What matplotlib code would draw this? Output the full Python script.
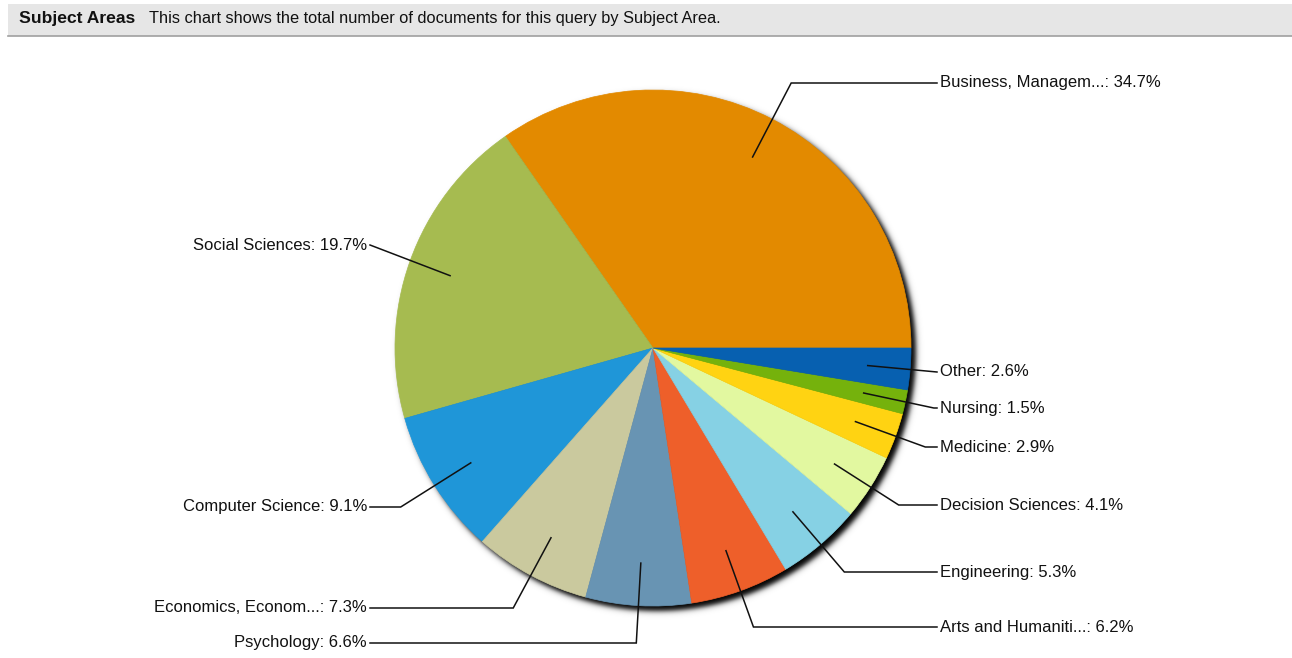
import numpy as np
import matplotlib
matplotlib.use("Agg")
import matplotlib.pyplot as plt
from matplotlib.patches import Rectangle

# ---- data ----
categories = ["Business, Managem...", "Social Sciences", "Computer Science",
              "Economics, Econom...", "Psychology", "Arts and Humaniti...",
              "Engineering", "Decision Sciences", "Medicine", "Nursing", "Other"]
percents = [34.7, 19.7, 9.1, 7.3, 6.6, 6.2, 5.3, 4.1, 2.9, 1.5, 2.6]
colors = ["#E38A00", "#A6BB50", "#1F96D8", "#CAC99E", "#6894B3", "#EE5F2A",
          "#86D1E4", "#E2F8A0", "#FFD312", "#75B20C", "#0760B0"]

# ---- layout (screen pixels) ----
W, H = 1292, 658
cx, cy, R = 653, 348, 258
label_y = [83, 245, 507, 608, 643, 627, 572, 505, 447, 408, 372]
right_x, left_x = 937, 370

fig = plt.figure(figsize=(W / 100, H / 100), dpi=100)
ax = fig.add_axes([0, 0, 1, 1])
ax.set_xlim(0, W)
ax.set_ylim(H, 0)
ax.set_aspect("equal")
ax.axis("off")

# header bar
ax.add_patch(Rectangle((8, 4), W - 8, 32, facecolor="#E6E6E6", edgecolor="none", zorder=1))
ax.plot([8, W], [36, 36], color="#A0A0A0", lw=1.2, zorder=2)
ax.text(19, 19, "Subject Areas", fontsize=12.6, fontweight="bold", va="center",
        ha="left", family="Liberation Sans", color="#111111", zorder=3)
ax.text(149, 18, "This chart shows the total number of documents for this query by Subject Area.",
        fontsize=11.8, va="center", ha="left", family="Liberation Sans", color="#111111", zorder=3)

# shadow
ox, oy = 4, 5
xs = np.arange(cx - R - 20, cx + R + 30)
ys = np.arange(cy - R - 20, cy + R + 30)
XX, YY = np.meshgrid(xs, ys)
d = np.sqrt((XX - cx - ox) ** 2 + (YY - cy - oy) ** 2) - R
alpha = 1.0 / (1 + np.exp((d - 0.5) / 1.6))
img = np.zeros((len(ys), len(xs), 4))
img[..., 3] = alpha
ax.imshow(img, extent=(xs[0] - 0.5, xs[-1] + 0.5, ys[-1] + 0.5, ys[0] - 0.5),
          zorder=3, interpolation="bilinear")
ax.set_xlim(0, W)
ax.set_ylim(H, 0)

wedges, _ = ax.pie(percents, colors=colors, startangle=0, counterclock=False,
                   center=(cx, cy), radius=R, frame=True)
for w in wedges:
    w.set_zorder(4)
    w.set_edgecolor(w.get_facecolor())
    w.set_linewidth(0.5)
ax.set_xlim(0, W)
ax.set_ylim(H, 0)
ax.axis("off")

# leader lines and labels
cum = np.cumsum([0] + percents)
total = sum(percents)
for i, (name, p) in enumerate(zip(categories, percents)):
    mid = np.deg2rad(360 * (cum[i] + p / 2) / total)
    c, s = np.cos(mid), np.sin(mid)
    x0, y0 = cx + 0.835 * R * c, cy - 0.835 * R * s
    ly = label_y[i]
    right = c > 0
    if abs(s) > 1e-6:
        t = (cy - ly) / s
        ex, ey = cx + t * c, ly
    else:
        ex, ey = right_x, ly
    if right:
        ex = min(ex, right_x)
        lx = right_x
    else:
        ex = max(ex, left_x)
        lx = left_x
    ax.plot([x0, ex, lx], [y0, ey, ly], color="#111111", lw=1.1, zorder=5,
            solid_joinstyle="miter")
    txt = f"{name}: {p:.1f}%"
    ax.text(lx + (3 if right else -3), ly, txt, ha="left" if right else "right",
            va="center", fontsize=12, family="Liberation Sans", color="#111111", zorder=6)

fig.savefig("out.png", dpi=100, facecolor="white")
